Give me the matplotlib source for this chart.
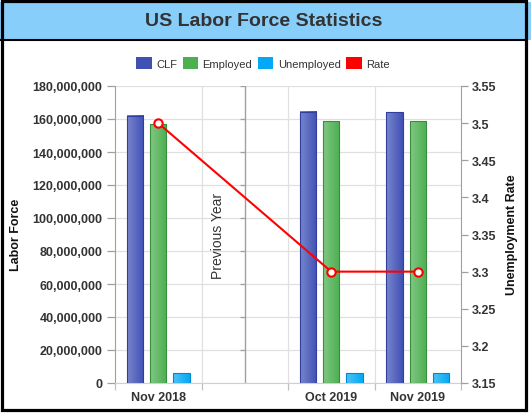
import numpy as np
import matplotlib
matplotlib.use("Agg")
import matplotlib.pyplot as plt
from matplotlib.patches import Rectangle, Patch
from matplotlib.colors import LinearSegmentedColormap
import matplotlib.transforms as mtransforms

plt.rcParams['font.family'] = ['Liberation Sans', 'DejaVu Sans']

# -------------
# DATA
# -------------
categories = ["Nov 2018", "", "Oct 2019", "Nov 2019"]   # slot 1 is the "Previous Year" gap
bar_slots = [0, 2, 3]
clf = [162.1e6, 164.4e6, 164.0e6]
employed = [156.7e6, 158.6e6, 158.6e6]
unemployed = [6.0e6, 5.9e6, 5.8e6]
rate = [3.5, 3.3, 3.3]
gap_label = "Previous Year"

W, H = 531, 414
fig = plt.figure(figsize=(W / 100, H / 100), dpi=100)

# header band + frame
fig.patches.append(Rectangle((0, 1 - 41 / H), 1, 38 / H, transform=fig.transFigure,
                             facecolor="#87CEFA", edgecolor="none", zorder=0))
fig.lines.append(plt.Line2D([0, 527 / W], [1 - 41 / H] * 2, transform=fig.transFigure,
                            color="black", lw=1.5))
fig.patches.append(Rectangle((1.5 / W, 3.5 / H), 524 / W, 409 / H, transform=fig.transFigure,
                             facecolor="none", edgecolor="black", lw=2.3, zorder=10))
fig.text(264 / W, 1 - 22 / H, "US Labor Force Statistics", ha="center", va="center",
         fontsize=14, fontweight="bold", color="#333333")

ax = fig.add_axes([115 / W, 30 / H, 346 / W, 297 / H])
ax2 = ax.twinx()

x = np.array(bar_slots, dtype=float)
bw = 0.19
off = 0.27
series = [
    (clf, -off, "#3F51B5", "#7986CB", "#303F9F"),
    (employed, 0.0, "#4CAF50", "#81C784", "#388E3C"),
    (unemployed, off, "#03A9F4", "#4FC3F7", "#0288D1"),
]
for vals, o, base, light, edge in series:
    bars = ax.bar(x + o, vals, width=bw, facecolor="none", edgecolor=edge, lw=0.8, zorder=3)
    cmap = LinearSegmentedColormap.from_list("g", [light, base])
    grad = np.linspace(0, 1, 64).reshape(1, -1)
    for b in bars:
        bx, by, bwid, bh = b.get_x(), b.get_y(), b.get_width(), b.get_height()
        ax.imshow(grad, cmap=cmap, extent=[bx, bx + bwid, by, by + bh], aspect="auto",
                  interpolation="bicubic", zorder=2)

ax.set_xlim(-0.5, 3.5)
ax.set_ylim(0, 180e6)
ax.set_aspect("auto")

# grid
yt = np.arange(0, 180e6 + 1, 20e6)
ax.set_yticks(yt)
ax.set_yticklabels([f"{int(v):,}" for v in yt], fontsize=9, fontweight="bold", color="#333333")
for v in yt:
    ax.axhline(v, color="#e0e0e0", lw=0.9, zorder=1)
bounds = np.arange(-0.5, 3.6, 1.0)
for b in bounds[1:-1]:
    ax.axvline(b, color="#e0e0e0", lw=0.9, zorder=1)

# separator line for previous year
ax.axvline(1.0, color="#a0a0a0", lw=1.0, zorder=1)
ax.hlines(yt[1:], 1.0 - 0.06, 1.0, color="#a0a0a0", lw=0.9, zorder=1)
trans = mtransforms.blended_transform_factory(ax.transData, ax.transAxes)
ax.text(0.69, 0.5, gap_label, transform=trans, rotation=90, ha="center", va="center",
        fontsize=10, color="#333333")

ax.set_xticks(range(len(categories)))
ax.set_xticklabels(categories, fontsize=9, fontweight="bold", color="#333333")
ax.set_xticks(bounds, minor=True)
ax.tick_params(axis="x", which="major", length=0, pad=6)
ax.tick_params(axis="x", which="minor", length=5, color="#c0c0c0", width=0.9)
ax.tick_params(axis="y", length=6, color="#a0a0a0", width=0.9, pad=3)

for s in ["top", "right"]:
    ax.spines[s].set_visible(False)
ax.spines["bottom"].set_color("#d0d0d0")
ax.spines["left"].set_color("#a0a0a0")

# rate line
ax2.plot(x, rate, color="#FF0000", lw=1.5, marker="o", markersize=6,
         markerfacecolor="white", markeredgecolor="#FF0000", markeredgewidth=1.5, zorder=5)
ax2.set_ylim(3.15, 3.55)
rt = [3.15, 3.2, 3.25, 3.3, 3.35, 3.4, 3.45, 3.5, 3.55]
ax2.set_yticks(rt)
ax2.set_yticklabels([f"{v:g}" for v in rt], fontsize=9, fontweight="bold", color="#333333")
ax2.tick_params(axis="y", length=5, color="#a0a0a0", width=0.9, pad=3)
for s in ["top", "left", "bottom"]:
    ax2.spines[s].set_visible(False)
ax2.spines["right"].set_color("#a0a0a0")

fig.text(16 / W, 1 - 235 / H, "Labor Force", rotation=90, ha="center", va="center",
         fontsize=9, fontweight="bold", color="#111111")
fig.text(512 / W, 1 - 235 / H, "Unemployment Rate", rotation=90, ha="center", va="center",
         fontsize=9, fontweight="bold", color="#111111")

handles = [Patch(facecolor=c, edgecolor="none") for c in ["#3F51B5", "#4CAF50", "#03A9F4", "#FF0000"]]
fig.legend(handles, ["CLF", "Employed", "Unemployed", "Rate"], loc="center",
           bbox_to_anchor=(263 / W, 1 - 64 / H), ncol=4, frameon=False, fontsize=8,
           handlelength=1.4, handleheight=1.3, handletextpad=0.4, columnspacing=0.5,
           labelcolor="#333333")

fig.savefig("out.png", dpi=100)
